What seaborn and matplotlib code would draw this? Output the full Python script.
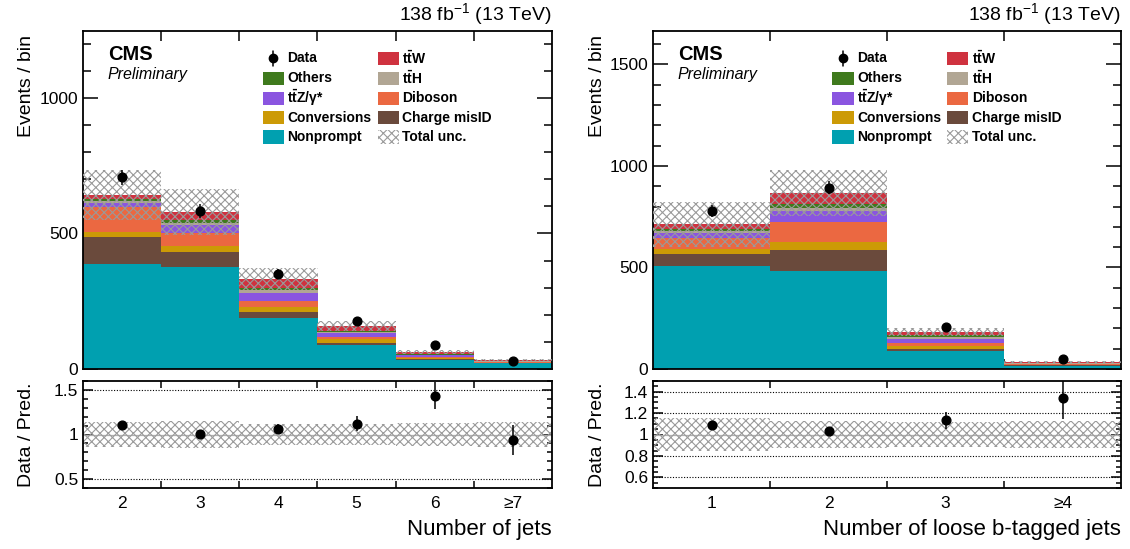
import numpy as np
import pandas as pd
import matplotlib
matplotlib.use("Agg")
import matplotlib.pyplot as plt
from matplotlib.patches import Rectangle
from matplotlib.lines import Line2D
from matplotlib.ticker import MultipleLocator, FixedLocator
import seaborn as sns

# ---------------- data ----------------
# processes from bottom to top of the stack
processes = ["Nonprompt", "Charge misID", "Conversions", "Diboson",
             "ttZ", "ttH", "Others", "ttW"]
colors = {
    "Nonprompt": "#00a0b0",
    "Charge misID": "#6a4a3c",
    "Conversions": "#cc9a06",
    "Diboson": "#eb6841",
    "ttZ": "#8a55e0",
    "ttH": "#b1a694",
    "Others": "#3f7a1d",
    "ttW": "#cf323f",
}

jets_labels = ["2", "3", "4", "5", "6", "≥7"]
jets_nonprompt = [387, 375, 190, 88, 35, 21]
jets_chargemisid = [101, 57, 21, 9, 2, 1]
jets_conversions = [19, 22, 19, 12, 4, 1.5]
jets_diboson = [92, 46, 21, 10, 4, 1.5]
jets_ttz = [15, 32, 31, 12, 5, 2]
jets_tth = [6, 8, 9, 7, 3, 1]
jets_others = [8, 10, 9, 3, 2, 1]
jets_ttw = [14, 28, 31, 18, 7, 4]
jets_data = [707, 583, 351, 178, 89, 31]
jets_data_err = [26.6, 24.1, 18.7, 13.3, 9.4, 5.6]
jets_unc = [92, 85, 40, 18, 8, 4.5]

btag_labels = ["1", "2", "3", "≥4"]
btag_nonprompt = [506, 481, 88, 17]
btag_chargemisid = [62, 107, 10, 2]
btag_conversions = [25, 36, 17, 2]
btag_diboson = [54, 100, 13, 2]
btag_ttz = [23, 54, 22, 4]
btag_tth = [10, 17, 10, 2]
btag_others = [10, 20, 7, 1]
btag_ttw = [23, 52, 15, 5]
btag_data = [778, 894, 206, 47]
btag_data_err = [27.9, 29.9, 14.4, 6.9]
btag_unc = [110, 112, 21, 4.5]

# ---------------- style ----------------
sns.set_theme(style="ticks")
plt.rcParams["font.family"] = ["Liberation Sans", "DejaVu Sans"]
plt.rcParams["mathtext.fontset"] = "custom"
plt.rcParams["mathtext.rm"] = "Liberation Sans"
plt.rcParams["mathtext.it"] = "Liberation Sans:italic"
plt.rcParams["mathtext.bf"] = "Liberation Sans:bold"
plt.rcParams["mathtext.sf"] = "Liberation Sans"
plt.rcParams["hatch.linewidth"] = 0.8
plt.rcParams["axes.linewidth"] = 1.3
for k in ["text.color", "axes.labelcolor", "xtick.color", "ytick.color",
          "axes.edgecolor"]:
    plt.rcParams[k] = "black"

HATCH_COLOR = "#9a9a9a"
HATCH = "xxxx"

fig = plt.figure(figsize=(11.3, 5.49), dpi=100)
W, H = 1130.0, 549.0


def fx(px):
    return px / W


def fy(py):
    return 1 - py / H


legend_labels = {
    "Data": "Data",
    "Others": "Others",
    "ttZ": r"$\mathbf{t\bar{t}Z}$/γ*",
    "Conversions": "Conversions",
    "Nonprompt": "Nonprompt",
    "ttW": r"$\mathbf{t\bar{t}W}$",
    "ttH": r"$\mathbf{t\bar{t}H}$",
    "Diboson": "Diboson",
    "Charge misID": "Charge misID",
    "Total unc.": "Total unc.",
}


def draw_panel(x0, x1, labels, comps, data, data_err, unc, ymax, ymajor,
               rlim, rmajor, rminor, rgrid, xlabel):
    n = len(labels)
    xs = np.arange(n)
    ax = fig.add_axes([fx(x0), fy(369), fx(x1 - x0), fy(31) - fy(369)])
    axr = fig.add_axes([fx(x0), fy(488), fx(x1 - x0), fy(381) - fy(488)])

    rows = []
    for p in processes:
        for i, v in enumerate(comps[p]):
            rows.append({"bin": i, "process": p, "count": v})
    df = pd.DataFrame(rows)
    sns.histplot(data=df, x="bin", weights="count", hue="process",
                 hue_order=processes[::-1], palette=colors,
                 multiple="stack", discrete=True, shrink=1, element="bars",
                 linewidth=0, alpha=1, legend=False, ax=ax)

    total = np.sum([np.asarray(comps[p], float) for p in processes], axis=0)
    unc = np.asarray(unc, float)
    data = np.asarray(data, float)
    data_err = np.asarray(data_err, float)

    ax.bar(xs, 2 * unc, bottom=total - unc, width=1, fill=False,
           hatch=HATCH, edgecolor=HATCH_COLOR, linewidth=0, zorder=3)
    ax.errorbar(xs, data, yerr=data_err, fmt="o", color="black", ms=6.3,
                elinewidth=1.1, capsize=0, zorder=5)

    ax.set_xlim(-0.5, n - 0.5)
    ax.set_ylim(0, ymax)
    ax.set_xlabel("")
    ax.set_ylabel("")
    ax.yaxis.set_major_locator(MultipleLocator(ymajor))
    ax.yaxis.set_minor_locator(MultipleLocator(100))
    ax.xaxis.set_major_locator(FixedLocator(xs))
    ax.xaxis.set_minor_locator(FixedLocator(xs[:-1] + 0.5))
    ax.tick_params(which="both", direction="in", top=True, right=True,
                   labelsize=12.5, width=1.1)
    ax.tick_params(axis="y", which="major", length=11)
    ax.tick_params(axis="y", which="minor", length=5.5)
    ax.tick_params(axis="x", which="major", length=0, labelbottom=False)
    ax.tick_params(axis="x", which="minor", length=7)

    # ratio panel
    rel = unc / total
    axr.bar(xs, 2 * rel, bottom=1 - rel, width=1, fill=False, hatch=HATCH,
            edgecolor=HATCH_COLOR, linewidth=0, zorder=2)
    axr.axhline(1, color="#b0b0b0", lw=0.9, zorder=1)
    for g in rgrid:
        axr.axhline(g, color="black", lw=0.8, ls=(0, (1, 1.5)), zorder=1)
    axr.errorbar(xs, data / total, yerr=data_err / total, fmt="o",
                 color="black", ms=6.3, elinewidth=1.1, capsize=0, zorder=5)
    axr.set_xlim(-0.5, n - 0.5)
    axr.set_ylim(*rlim)
    axr.yaxis.set_major_locator(FixedLocator(rmajor))
    axr.yaxis.set_minor_locator(MultipleLocator(rminor))
    axr.set_yticklabels([("%g" % v) for v in rmajor])
    axr.xaxis.set_major_locator(FixedLocator(xs))
    axr.set_xticklabels(labels)
    axr.xaxis.set_minor_locator(FixedLocator(xs[:-1] + 0.5))
    axr.tick_params(which="both", direction="in", top=True, right=True,
                    labelsize=12.5, width=1.1)
    axr.tick_params(axis="y", which="major", length=7)
    axr.tick_params(axis="y", which="minor", length=3.5)
    axr.tick_params(axis="x", which="major", length=0, pad=6)
    axr.tick_params(axis="x", which="minor", length=5)
    axr.set_xlabel("")
    axr.set_ylabel("")

    # texts
    ax.text(1.0, 1.012, r"138 fb$^{-1}$ (13 TeV)", transform=ax.transAxes,
            ha="right", va="bottom", fontsize=14)
    ax.text(0.053, 0.915, "CMS", transform=ax.transAxes, ha="left",
            va="baseline", fontsize=14.5, fontweight="bold")
    ax.text(0.053, 0.858, "Preliminary", transform=ax.transAxes, ha="left",
            va="baseline", fontsize=11.5, style="italic")
    fig.text(fx(x1), fy(530), xlabel, ha="right", va="center", fontsize=16)
    fig.text(fx(x0 - 56), fy(35), "Events / bin", rotation=90, ha="center",
             va="top", fontsize=14)
    fig.text(fx(x0 - 56), fy(435), "Data / Pred.", rotation=90, ha="center",
             va="center", fontsize=14)

    # legend (drawn manually in axes coordinates)
    col1 = ["Data", "Others", "ttZ", "Conversions", "Nonprompt"]
    col2 = ["ttW", "ttH", "Diboson", "Charge misID", "Total unc."]
    rows_y = [0.919, 0.860, 0.801, 0.744, 0.686]
    bw, bh = 0.046, 0.040
    for cx, tx, col in [(0.383, 0.436, col1), (0.628, 0.681, col2)]:
        for key, yy in zip(col, rows_y):
            if key == "Data":
                ax.add_line(Line2D([cx + bw / 2], [yy], marker="o", ms=6,
                                   color="black", transform=ax.transAxes))
                ax.add_line(Line2D([cx + bw / 2, cx + bw / 2],
                                   [yy - 0.022, yy + 0.022], lw=1.1,
                                   color="black", transform=ax.transAxes))
            elif key == "Total unc.":
                ax.add_patch(Rectangle((cx, yy - bh / 2), bw, bh, fill=False,
                                       hatch=HATCH, edgecolor=HATCH_COLOR,
                                       linewidth=0, transform=ax.transAxes))
            else:
                ax.add_patch(Rectangle((cx, yy - bh / 2), bw, bh,
                                       facecolor=colors[key],
                                       edgecolor="none",
                                       transform=ax.transAxes))
            ax.text(tx, yy, legend_labels[key], transform=ax.transAxes,
                    ha="left", va="center", fontsize=10, fontweight="bold")
    return ax, axr


jets_comps = {
    "Nonprompt": jets_nonprompt, "Charge misID": jets_chargemisid,
    "Conversions": jets_conversions, "Diboson": jets_diboson,
    "ttZ": jets_ttz, "ttH": jets_tth, "Others": jets_others, "ttW": jets_ttw,
}
btag_comps = {
    "Nonprompt": btag_nonprompt, "Charge misID": btag_chargemisid,
    "Conversions": btag_conversions, "Diboson": btag_diboson,
    "ttZ": btag_ttz, "ttH": btag_tth, "Others": btag_others, "ttW": btag_ttw,
}

draw_panel(83, 552, jets_labels, jets_comps, jets_data, jets_data_err,
           jets_unc, 1247, 500, (0.4, 1.6), [0.5, 1, 1.5], 0.1, [0.5, 1.5],
           "Number of jets")
draw_panel(653, 1121, btag_labels, btag_comps, btag_data, btag_data_err,
           btag_unc, 1665, 500, (0.5, 1.5), [0.6, 0.8, 1, 1.2, 1.4], 0.05,
           [0.6, 0.8, 1.2, 1.4], "Number of loose b-tagged jets")

fig.savefig("out.png", dpi=100)
